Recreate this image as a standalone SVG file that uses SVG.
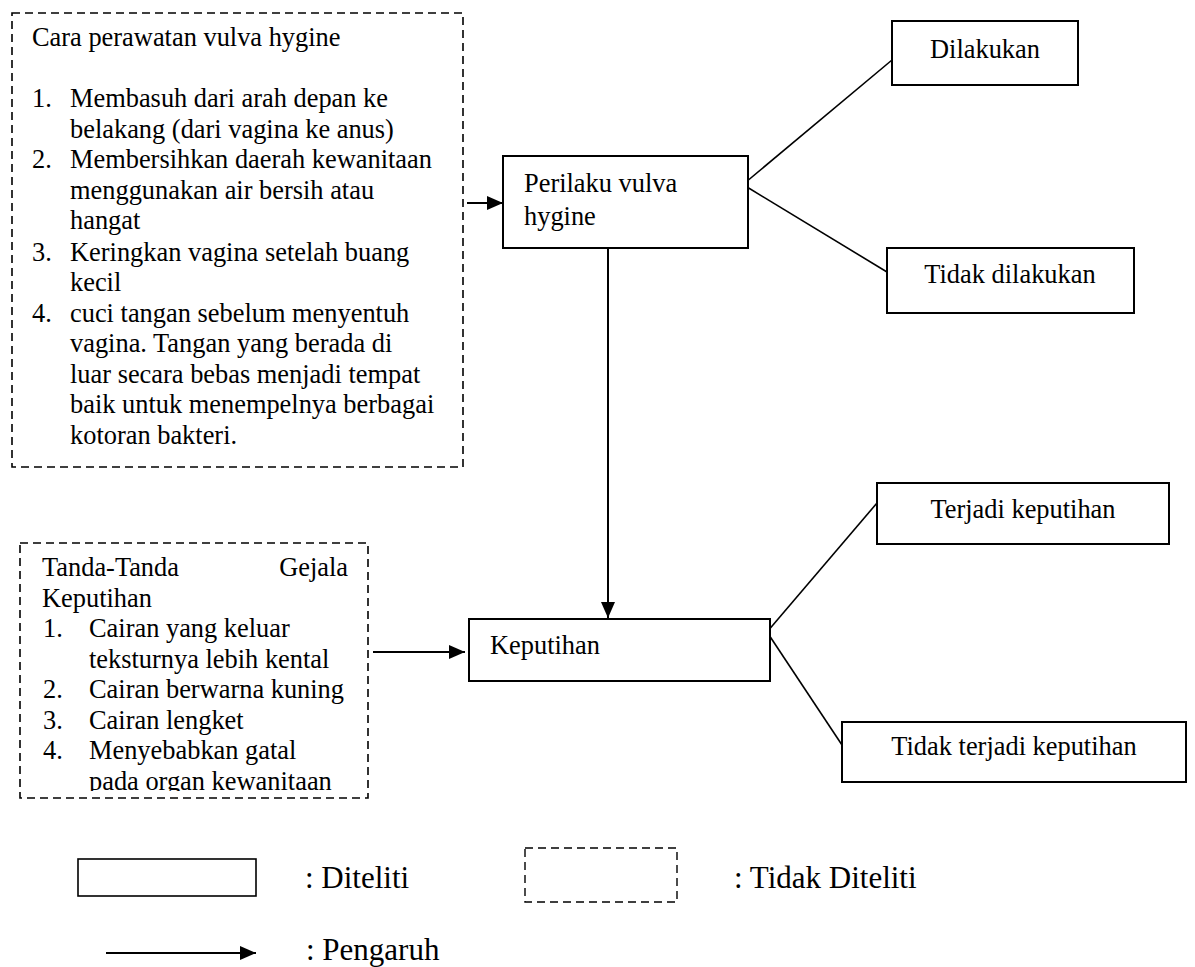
<svg xmlns="http://www.w3.org/2000/svg" width="1195" height="967" viewBox="0 0 1195 967">
<style>
  .t { font-family: "Liberation Serif", "Times New Roman", serif; font-size: 26.4px; fill: #000; }
  .lg { font-family: "Liberation Serif", "Times New Roman", serif; font-size: 31px; fill: #000; }
  .solid { fill: #fff; stroke: #000; stroke-width: 2; }
  .dash { fill: #fff; stroke: #000; stroke-width: 1.6; stroke-dasharray: 8 5; }
  .ln { fill: none; stroke: #000; stroke-width: 1.6; }
  .ar { fill: none; stroke: #000; stroke-width: 2; marker-end: url(#ah); }
</style>
<defs>
  <marker id="ah" markerWidth="16" markerHeight="14" refX="16" refY="7" orient="auto" markerUnits="userSpaceOnUse">
    <path d="M0,0 L16,7 L0,14 Z" fill="#000"/>
  </marker>
  <clipPath id="clip2"><rect x="20" y="543" width="350" height="248"/></clipPath>
</defs>
<rect width="1195" height="967" fill="#fff"/>

<g id="connectors">
  <line class="ar" x1="467" y1="203" x2="503" y2="203"/>
  <line class="ar" x1="608" y1="248" x2="608" y2="618"/>
  <line class="ar" x1="373" y1="652" x2="465" y2="652"/>
  <line class="ln" x1="746" y1="182" x2="892" y2="60"/>
  <line class="ln" x1="747" y1="187" x2="887" y2="272"/>
  <line class="ln" x1="767" y1="632" x2="877" y2="503"/>
  <line class="ln" x1="767" y1="632" x2="842" y2="745"/>
</g>

<g id="cara-perawatan">
  <rect class="dash" x="12" y="13" width="451" height="454"/>
  <text class="t" x="32" y="46">Cara perawatan vulva hygine</text>
  <text class="t" x="32" y="107">1.</text>
  <text class="t" x="70" y="107">Membasuh dari arah depan ke</text>
  <text class="t" x="70" y="137.5">belakang (dari vagina ke anus)</text>
  <text class="t" x="32" y="168">2.</text>
  <text class="t" x="70" y="168">Membersihkan daerah kewanitaan</text>
  <text class="t" x="70" y="198.5">menggunakan air bersih atau</text>
  <text class="t" x="70" y="229">hangat</text>
  <text class="t" x="32" y="261">3.</text>
  <text class="t" x="70" y="261">Keringkan vagina setelah buang</text>
  <text class="t" x="70" y="291">kecil</text>
  <text class="t" x="32" y="321.5">4.</text>
  <text class="t" x="70" y="321.5">cuci tangan sebelum menyentuh</text>
  <text class="t" x="70" y="352">vagina. Tangan yang berada di</text>
  <text class="t" x="70" y="382.5">luar secara bebas menjadi tempat</text>
  <text class="t" x="70" y="413">baik untuk menempelnya berbagai</text>
  <text class="t" x="70" y="443.5">kotoran bakteri.</text>
</g>

<g id="perilaku">
  <rect class="solid" x="503" y="156" width="245" height="92"/>
  <text class="t" x="524" y="192">Perilaku vulva</text>
  <text class="t" x="524" y="225">hygine</text>
</g>

<g id="dilakukan">
  <rect class="solid" x="892" y="21" width="186" height="64"/>
  <text class="t" x="985" y="58" text-anchor="middle">Dilakukan</text>
</g>

<g id="tidak-dilakukan">
  <rect class="solid" x="887" y="248" width="247" height="65"/>
  <text class="t" x="1010" y="283" text-anchor="middle">Tidak dilakukan</text>
</g>

<g id="tanda-gejala">
  <rect class="dash" x="20" y="543" width="348" height="255"/>
  <g clip-path="url(#clip2)">
    <text class="t" x="42" y="576">Tanda-Tanda</text>
    <text class="t" x="348" y="576" text-anchor="end">Gejala</text>
    <text class="t" x="42" y="606.5">Keputihan</text>
    <text class="t" x="43" y="637">1.</text>
    <text class="t" x="89" y="637">Cairan yang keluar</text>
    <text class="t" x="89" y="667.5">teksturnya lebih kental</text>
    <text class="t" x="43" y="698">2.</text>
    <text class="t" x="89" y="698">Cairan berwarna kuning</text>
    <text class="t" x="43" y="728.5">3.</text>
    <text class="t" x="89" y="728.5">Cairan lengket</text>
    <text class="t" x="43" y="759">4.</text>
    <text class="t" x="89" y="759">Menyebabkan gatal</text>
    <text class="t" x="89" y="789.5">pada organ kewanitaan</text>
  </g>
</g>

<g id="keputihan">
  <rect class="solid" x="469" y="619" width="301" height="62"/>
  <text class="t" x="490" y="654">Keputihan</text>
</g>

<g id="terjadi">
  <rect class="solid" x="877" y="483" width="292" height="61"/>
  <text class="t" x="1023" y="518" text-anchor="middle">Terjadi keputihan</text>
</g>

<g id="tidak-terjadi">
  <rect class="solid" x="842" y="722" width="344" height="60"/>
  <text class="t" x="1014" y="755" text-anchor="middle">Tidak terjadi keputihan</text>
</g>

<g id="legend">
  <rect class="solid" x="78" y="859" width="178" height="37" style="stroke-width:1.6"/>
  <text class="lg" x="305" y="888">: Diteliti</text>
  <rect class="dash" x="525" y="848" width="152" height="54" style="stroke-width:1.4"/>
  <text class="lg" x="734" y="888">: Tidak Diteliti</text>
  <line class="ar" x1="106" y1="953" x2="256" y2="953"/>
  <text class="lg" x="306" y="960">: Pengaruh</text>
</g>
</svg>
